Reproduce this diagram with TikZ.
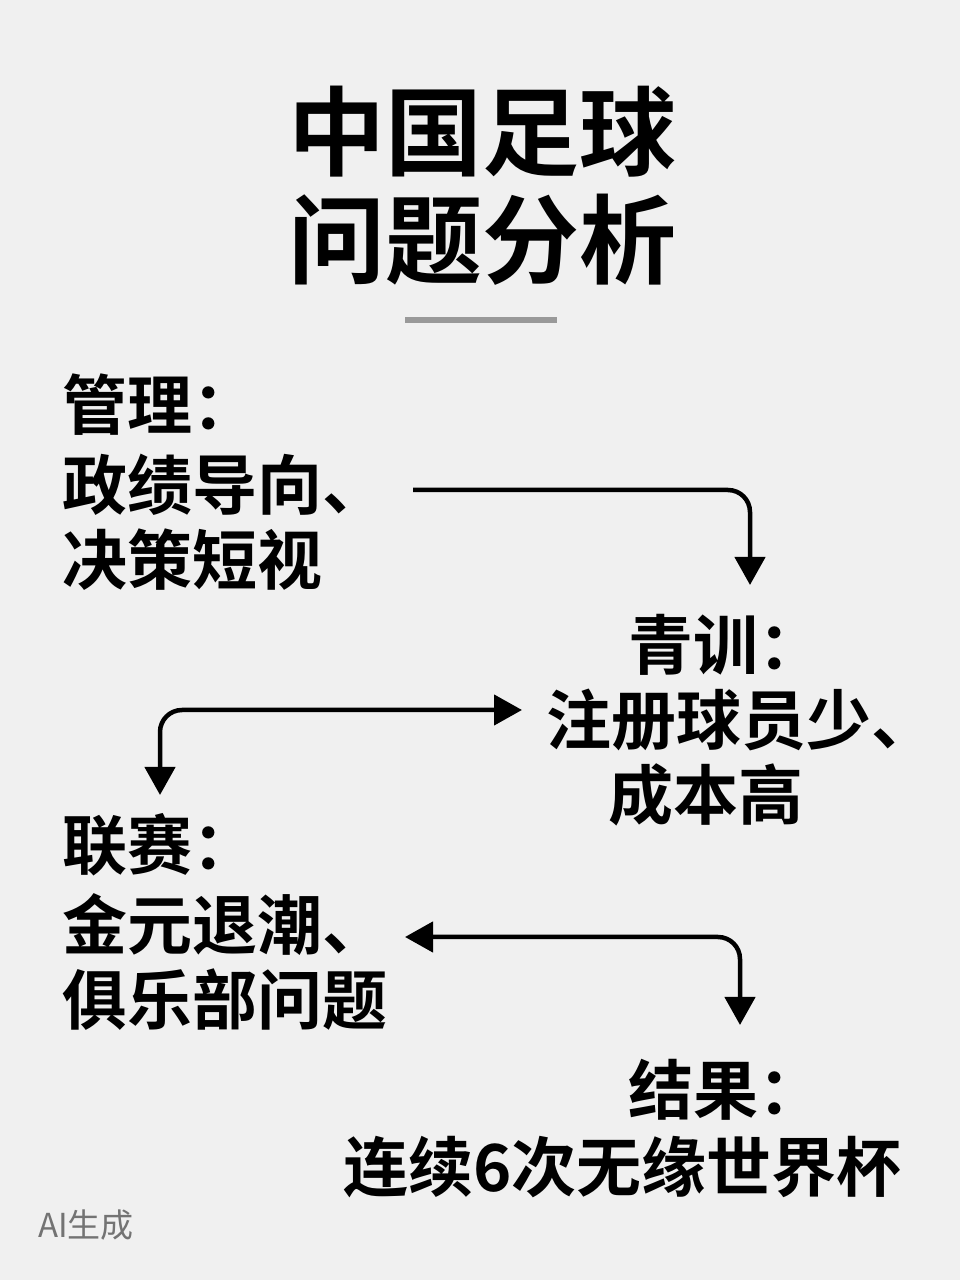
\documentclass[tikz,border=0pt]{standalone}
\usepackage{fontspec}
\newfontfamily\cjk{Noto Sans CJK SC}[BoldFont=* Bold]
\usetikzlibrary{arrows.meta}
\begin{document}
\begin{tikzpicture}[x=1pt,y=1pt,
  body/.style={font=\cjk\bfseries\fontsize{65}{70}\selectfont,anchor=west,inner sep=0pt},
  conn/.style={line width=4.5pt,rounded corners=22pt,-{Triangle[length=28pt,width=30pt]}},
  conn2/.style={line width=4.5pt,rounded corners=22pt,{Triangle[length=28pt,width=30pt]}-{Triangle[length=28pt,width=30pt]}}]
\fill[black!6] (0,0) rectangle (960,1280);
\useasboundingbox (0,0) rectangle (960,1280);
\node[font=\cjk\bfseries\fontsize{97}{100}\selectfont,inner sep=0pt] (t1) at (482,1148) {中国足球};
\node[font=\cjk\bfseries\fontsize{97}{100}\selectfont,inner sep=0pt] (t2) at (482,1040) {问题分析};
\draw[line width=6pt,black!40] (405,960) -- (557,960);
\node[body] (a1) at (62,875) {管理：};
\node[body] (a2) at (62,795) {政绩导向、};
\node[body] (a3) at (62,720) {决策短视};
\node[body] (b1) at (628,635) {青训：};
\node[body] (b2) at (546,560) {注册球员少、};
\node[body] (b3) at (608,485) {成本高};
\node[body] (c1) at (62,435) {联赛：};
\node[body] (c2) at (62,355) {金元退潮、};
\node[body] (c3) at (62,280) {俱乐部问题};
\node[body] (d1) at (628,190) {结果：};
\node[body] (d2) at (343,113) {连续6次无缘世界杯};
\node[font=\cjk\fontsize{33}{36}\selectfont,text=black!55,anchor=west,inner sep=0pt] (ai) at (38,55) {AI生成};
\coordinate (p1) at (413,790);
\coordinate (e1) at (750,695);
\draw[conn] (p1) -- (750,790) -- (e1);
\coordinate (p2) at (522,570);
\coordinate (e2) at (160,485);
\draw[conn2] (e2) -- (160,570) -- (p2);
\coordinate (p3) at (405,343);
\coordinate (e3) at (740,255);
\draw[conn2] (p3) -- (740,343) -- (e3);
\end{tikzpicture}
\end{document}
